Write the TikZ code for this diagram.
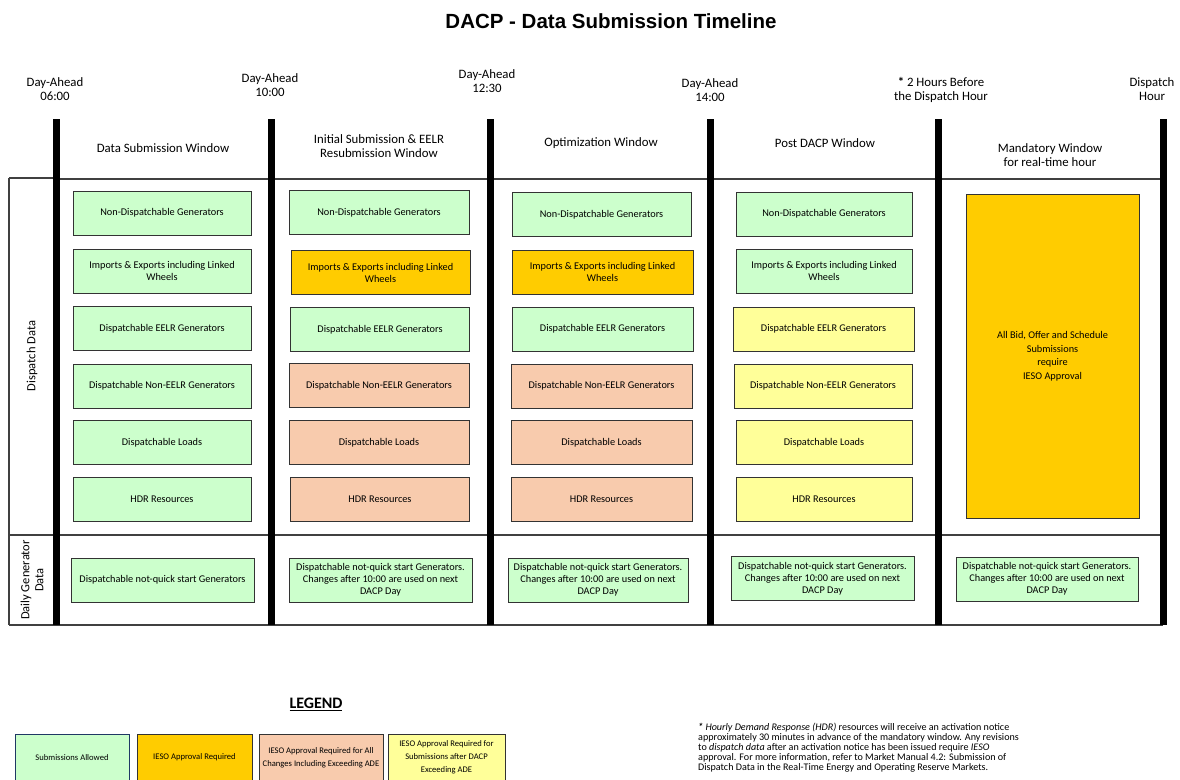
\documentclass[tikz,border=0pt]{standalone}
\usepackage{fontspec}
\setmainfont{Carlito}
\newfontfamily\titlefont{Liberation Sans}
\definecolor{cgreen}{RGB}{204,255,204}
\definecolor{corange}{RGB}{255,204,0}
\definecolor{cpeach}{RGB}{248,203,173}
\definecolor{cyellow}{RGB}{255,255,153}
\definecolor{cnavy}{RGB}{31,56,100}
\begin{document}
\begin{tikzpicture}[x=1pt,y=-1pt,
  box/.style={draw=black!80, line width=0.8pt, inner sep=1pt, align=center,
    font=\fontsize{10.3}{12}\selectfont, minimum height=44pt},
  g/.style={box, fill=cgreen},
  o/.style={box, fill=corange},
  p/.style={box, fill=cpeach},
  yl/.style={box, fill=cyellow},
  bar/.style={line width=7pt, line cap=butt},
  frame/.style={draw=black!75, line width=1.2pt},
  hdr/.style={align=center, font=\fontsize{12.8}{14.5}\selectfont},
  side/.style={align=center, rotate=90, font=\fontsize{12.5}{14}\selectfont},
  leg/.style={box, font=\fontsize{8.6}{13}\selectfont, minimum height=47pt},
]
\useasboundingbox (0,0) rectangle (1180,779);

% title
\node[font=\titlefont\bfseries\fontsize{20.5}{24}\selectfont] (title) at (611,21) {DACP - Data Submission Timeline};

% time labels
\node[hdr] (t1) at (55,89) {Day-Ahead\\06:00};
\node[hdr] (t2) at (270,85) {Day-Ahead\\10:00};
\node[hdr] (t3) at (487,81) {Day-Ahead\\12:30};
\node[hdr] (t4) at (710,90) {Day-Ahead\\14:00};
\node[hdr] (t5) at (941,90) {\textbf{*} 2 Hours Before\\the Dispatch Hour};
\node[hdr] (t6) at (1152,89) {Dispatch\\Hour};

% window labels
\node[hdr] (w1) at (163,148) {Data Submission Window};
\node[hdr] (w2) at (379,146) {Initial Submission \& EELR\\Resubmission Window};
\node[hdr] (w3) at (601,143) {Optimization Window};
\node[hdr] (w4) at (825,143) {Post DACP Window};
\node[hdr] (w5) at (1050,155) {Mandatory Window\\for real-time hour};

% frame lines
\draw[frame] (9,178) -- (55,178);
\draw[frame] (55,179) -- (1163,179);
\draw[frame] (9,178) -- (9,625);
\draw[frame] (9,535) -- (1163,535);
\draw[frame] (9,625) -- (1163,625);

% thick bars
\foreach \xx/\nm in {56/b1,271/b2,490/b3,710/b4,938/b5,1163/b6}{
  \coordinate (\nm top) at (\xx,119);
  \coordinate (\nm bot) at (\xx,625);
  \draw[bar] (\nm top) -- (\nm bot);
}

% side labels
\node[side] (s1) at (32,356) {Dispatch Data};
\node[side] (s2) at (32,580) {Daily Generator\\Data};

% column 1
\node[g, minimum width=178pt] (a1) at (162,213) {Non-Dispatchable Generators};
\node[g, minimum width=178pt] (a2) at (162,271) {Imports \& Exports including Linked\\Wheels};
\node[g, minimum width=178pt] (a3) at (162,328.5) {Dispatchable EELR Generators};
\node[g, minimum width=178pt] (a4) at (162,386) {Dispatchable Non-EELR Generators};
\node[g, minimum width=178pt] (a5) at (162,442.5) {Dispatchable Loads};
\node[g, minimum width=178pt] (a6) at (162,499.5) {HDR Resources};
\node[g, minimum width=183pt] (a7) at (162.5,580) {Dispatchable not-quick start Generators};

% column 2
\node[g, minimum width=180pt] (b1) at (379,212.5) {Non-Dispatchable Generators};
\node[o, minimum width=179pt] (b2) at (380.5,272.5) {Imports \& Exports including Linked\\Wheels};
\node[g, minimum width=179pt] (b3) at (380,329.5) {Dispatchable EELR Generators};
\node[p, minimum width=180pt] (b4) at (379,385.5) {Dispatchable Non-EELR Generators};
\node[p, minimum width=180pt] (b5) at (379,442.5) {Dispatchable Loads};
\node[p, minimum width=179pt] (b6) at (380,499.5) {HDR Resources};
\node[g, minimum width=183pt] (b7) at (380.5,580) {Dispatchable not-quick start Generators.\\Changes after 10:00 are used on next\\DACP Day};

% column 3
\node[g, minimum width=179pt] (c1) at (601.5,214.5) {Non-Dispatchable Generators};
\node[o, minimum width=181pt] (c2) at (602.5,272) {Imports \& Exports including Linked\\Wheels};
\node[g, minimum width=181pt] (c3) at (602.5,329) {Dispatchable EELR Generators};
\node[p, minimum width=181pt] (c4) at (601.5,386) {Dispatchable Non-EELR Generators};
\node[p, minimum width=181pt] (c5) at (601.5,442.5) {Dispatchable Loads};
\node[p, minimum width=181pt] (c6) at (601.5,499.5) {HDR Resources};
\node[g, minimum width=180pt] (c7) at (598,580) {Dispatchable not-quick start Generators.\\Changes after 10:00 are used on next\\DACP Day};

% column 4
\node[g, minimum width=176pt] (d1) at (824,214) {Non-Dispatchable Generators};
\node[g, minimum width=176pt] (d2) at (824,271) {Imports \& Exports including Linked\\Wheels};
\node[yl, minimum width=181pt] (d3) at (823.5,329) {Dispatchable EELR Generators};
\node[yl, minimum width=178pt] (d4) at (823,386) {Dispatchable Non-EELR Generators};
\node[yl, minimum width=176pt] (d5) at (824,442.5) {Dispatchable Loads};
\node[yl, minimum width=176pt] (d6) at (824,499.5) {HDR Resources};
\node[g, minimum width=183pt] (d7) at (822.5,578.5) {Dispatchable not-quick start Generators.\\Changes after 10:00 are used on next\\DACP Day};

% column 5
\node[o, minimum width=173pt, minimum height=324pt, font=\fontsize{10.3}{13.5}\selectfont] (e1) at (1052.5,356) {All Bid, Offer and Schedule\\Submissions\\require\\IESO Approval};
\node[g, minimum width=182pt] (e7) at (1047,579) {Dispatchable not-quick start Generators.\\Changes after 10:00 are used on next\\DACP Day};

% legend
\node[font=\bfseries\fontsize{16}{19}\selectfont] (legend) at (316,704) {\underline{LEGEND}};
\node[leg, fill=cgreen, draw=cnavy, minimum width=114pt] (l1) at (72,757.5) {Submissions Allowed};
\node[leg, fill=corange, minimum width=115pt] (l2) at (194.5,757.5) {IESO Approval Required};
\node[leg, fill=cpeach, minimum width=124pt] (l3) at (321,757.5) {IESO Approval Required for All\\Changes Including Exceeding ADE};
\node[leg, fill=cyellow, minimum width=117pt] (l4) at (446.5,757.5) {IESO Approval Required for\\Submissions after DACP\\Exceeding ADE};

% footnote
\node[anchor=north west, align=left, inner sep=0pt, font=\fontsize{10.1}{10.1}\selectfont] (note) at (698,723) {\textbf{\textit{*}} \textit{Hourly Demand Response (HDR)} resources will receive an activation notice\\approximately 30 minutes in advance of the mandatory window. Any revisions\\to \textit{dispatch data} after an activation notice has been issued require \textit{IESO}\\approval. For more information, refer to Market Manual 4.2: Submission of\\Dispatch Data in the Real-Time Energy and Operating Reserve Markets.};
\end{tikzpicture}
\end{document}
